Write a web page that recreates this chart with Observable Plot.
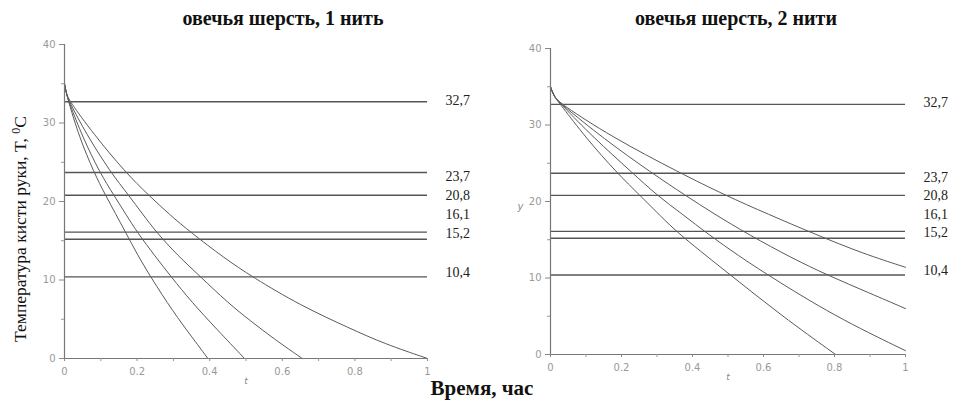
<!DOCTYPE html>
<html><head><meta charset="utf-8">
<script src="https://cdn.jsdelivr.net/npm/d3@7"></script>
<script src="https://cdn.jsdelivr.net/npm/@observablehq/plot@0.6"></script>
<style>
body{margin:0;background:#fff;}
#wrap{position:relative;width:960px;height:401px;overflow:hidden;font-family:"Liberation Serif",serif;color:#111;}
.panel{position:absolute;top:0;}
.title{position:absolute;top:7px;font-weight:bold;font-size:20px;white-space:nowrap;transform:translateX(-50%);}
#ylab{position:absolute;left:20px;top:229px;font-size:17.5px;white-space:nowrap;transform:translate(-50%,-50%) rotate(-90deg);}
#ylab sup{font-size:12px;}
#xlab{position:absolute;left:482px;top:376px;font-size:21px;font-weight:bold;white-space:nowrap;transform:translateX(-50%);}
</style></head>
<body>
<div id="wrap">
  <div id="p1" class="panel" style="left:0"></div>
  <div id="p2" class="panel" style="left:480px"></div>
  <div class="title" style="left:283px">овечья шерсть, 1 нить</div>
  <div class="title" style="left:736px">овечья шерсть, 2 нити</div>
  <div id="ylab">Температура кисти руки, T, <sup>0</sup>C</div>
  <div id="xlab">Время, час</div>
</div>
<script>
// ---- data ----
const levels = [32.7, 23.7, 20.8, 16.1, 15.2, 10.4];
const yTicks = [0, 10, 20, 30, 40];
const yMinor = [5, 15, 25, 35];
const xTicks = [0, 0.2, 0.4, 0.6, 0.8, 1];
const xMinor = [0.1, 0.3, 0.5, 0.7, 0.9];

// 1 нить
const l1t = [0, 0.005, 0.012, 0.04, 0.081, 0.113, 0.14, 0.168, 0.2, 0.237, 0.3, 0.35, 0.395];
const l1T = [35.0, 33.8, 32.6, 28.3, 23.7, 20.8, 18.5, 16.1, 13.3, 10.4, 5.9, 2.8, 0];
const l2t = [0, 0.005, 0.012, 0.05, 0.097, 0.136, 0.17, 0.2, 0.25, 0.294, 0.35, 0.42, 0.496];
const l2T = [35.0, 33.8, 32.7, 28.2, 23.7, 20.8, 18.3, 16.1, 13.0, 10.4, 7.2, 3.7, 0];
const l3t = [0, 0.005, 0.012, 0.06, 0.127, 0.177, 0.215, 0.253, 0.31, 0.375, 0.45, 0.512, 0.58, 0.655];
const l3T = [35.0, 33.8, 32.8, 28.6, 23.7, 20.8, 18.4, 16.1, 13.2, 10.4, 7.1, 4.8, 2.4, 0];
const l4t = [0, 0.005, 0.012, 0.08, 0.168, 0.232, 0.29, 0.347, 0.44, 0.517, 0.65, 0.788, 0.88, 1.0];
const l4T = [35.0, 33.8, 32.9, 28.6, 23.7, 20.8, 18.3, 16.1, 12.8, 10.4, 6.75, 3.8, 1.9, 0];

// 2 нити
const r1t = [0, 0.01, 0.028, 0.1, 0.188, 0.252, 0.31, 0.365, 0.507, 0.65, 0.803];
const r1T = [35.0, 33.7, 32.7, 28.3, 23.7, 20.8, 18.1, 15.6, 10.4, 5.1, 0];
const r2t = [0, 0.01, 0.028, 0.12, 0.232, 0.3, 0.37, 0.446, 0.53, 0.612, 0.8, 1.0];
const r2T = [35.0, 33.7, 32.8, 28.4, 23.7, 20.8, 18.4, 15.65, 12.9, 10.4, 5.0, 0.5];
const r3t = [0, 0.01, 0.028, 0.15, 0.286, 0.38, 0.46, 0.559, 0.68, 0.779, 0.9, 1.0];
const r3T = [35.0, 33.7, 32.8, 28.2, 23.7, 20.8, 18.4, 15.65, 12.6, 10.4, 8.0, 6.0];
const r4t = [0, 0.01, 0.028, 0.17, 0.366, 0.493, 0.61, 0.749, 0.88, 1.0];
const r4T = [35.0, 33.7, 32.8, 28.5, 23.7, 20.8, 18.4, 15.65, 13.2, 11.4];

// ---- layout ----
const labelDy = [-1.5, 4.5, 0.6, -17.2, -5.4, -4];
const fmt = v => String(v).replace(".", ",");

function toRows(list) {
  const rows = [];
  list.forEach(([ts, Ts], k) => ts.forEach((t, i) => rows.push({id: k, t, T: Ts[i]})));
  return rows;
}

function panel(rows, m, showY) {
  const marks = [
    Plot.ruleY(levels, {x1: 0, x2: 1, stroke: "#555", strokeWidth: 1.4}),
    Plot.line(rows, {x: "t", y: "T", z: "id", stroke: "#5a5a5a", strokeWidth: 1, curve: "basis"}),
    Plot.ruleX([0], {stroke: "#777", strokeWidth: 1.2}),
    Plot.ruleY([0], {stroke: "#777", strokeWidth: 1.2}),
    Plot.axisY({ticks: yTicks, tickSize: 5, tickPadding: 4, label: null, stroke: "#888", fill: "#999"}),
    Plot.axisY({ticks: yMinor, tickSize: 3, tickFormat: () => "", label: null, stroke: "#999"}),
    Plot.axisX({ticks: xTicks, tickSize: 3, tickPadding: 6, tickFormat: d => String(d), label: null, stroke: "#888", fill: "#999"}),
    Plot.axisX({ticks: xMinor, tickSize: 3, tickFormat: () => "", label: null, stroke: "#999"}),
    Plot.text(["t"], {text: d => d, frameAnchor: "bottom", dy: 25, fontStyle: "italic", fill: "#888", fontSize: 9}),
    ...levels.map((v, i) => Plot.text([v], {
      y: d => d, text: d => fmt(d), frameAnchor: "right", dx: 18, dy: labelDy[i],
      textAnchor: "start", fontFamily: "Liberation Serif", fontSize: 14, fill: "#222"
    }))
  ];
  if (showY) marks.push(Plot.text(["y"], {text: d => d, frameAnchor: "left", dx: -33, dy: 5, fontStyle: "italic", fill: "#888", fontSize: 10}));
  return Plot.plot({
    width: 480, height: 401,
    marginLeft: m[0], marginRight: m[1], marginTop: m[2], marginBottom: m[3],
    x: {domain: [0, 1]},
    y: {domain: [0, 40]},
    style: {background: "transparent", overflow: "visible", fontFamily: "DejaVu Sans", fontSize: "10px"},
    marks
  });
}

const left = toRows([[l1t, l1T], [l2t, l2T], [l3t, l3T], [l4t, l4T]]);
const right = toRows([[r1t, r1T], [r2t, r2T], [r3t, r3T], [r4t, r4T]]);
document.getElementById("p1").append(panel(left, [64, 53, 44, 43], false));
document.getElementById("p2").append(panel(right, [70, 55, 48, 47], true));
</script>
</body></html>
